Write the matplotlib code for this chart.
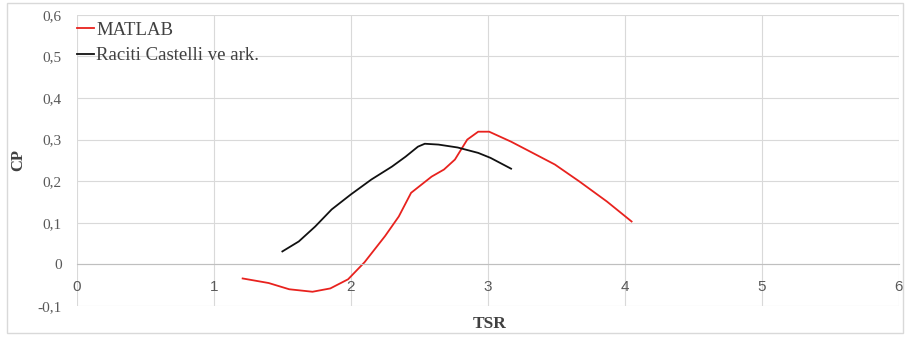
import matplotlib.pyplot as plt
from matplotlib.patches import Rectangle

# MATLAB sonuclari (kirmizi)
matlab_tsr = [1.21, 1.40, 1.55, 1.72, 1.85, 1.98, 2.10, 2.25, 2.35, 2.44, 2.59, 2.68, 2.76,
              2.85, 2.93, 3.01, 3.17, 3.31, 3.49, 3.67, 3.87, 4.05]
matlab_cp = [-0.034, -0.045, -0.060, -0.066, -0.058, -0.036, 0.005, 0.068, 0.115, 0.172,
             0.211, 0.228, 0.252, 0.300, 0.319, 0.319, 0.295, 0.271, 0.240, 0.199, 0.151, 0.103]

# Raciti Castelli ve ark. (siyah)
raciti_tsr = [1.50, 1.62, 1.74, 1.86, 2.00, 2.15, 2.30, 2.40, 2.49, 2.54, 2.64, 2.78, 2.93, 3.02, 3.17]
raciti_cp = [0.031, 0.055, 0.091, 0.132, 0.168, 0.204, 0.235, 0.259, 0.283, 0.290, 0.288,
             0.281, 0.268, 0.256, 0.230]

xticks = [0, 1, 2, 3, 4, 5, 6]
yticks = [-0.1, 0, 0.1, 0.2, 0.3, 0.4, 0.5, 0.6]
yticklabels = ['-0,1', '0', '0,1', '0,2', '0,3', '0,4', '0,5', '0,6']

fig = plt.figure(figsize=(9.05, 3.38), dpi=100)
fig.patches.append(Rectangle((0.008, 0.015), 0.99, 0.975, transform=fig.transFigure,
                             fill=False, edgecolor='#d9d9d9', linewidth=1))
ax = fig.add_axes([0.085, 0.095, 0.908, 0.861])

ax.plot(matlab_tsr, matlab_cp, color='#e8221e', linewidth=1.3, label='MATLAB')
ax.plot(raciti_tsr, raciti_cp, color='#111111', linewidth=1.3, label='Raciti Castelli ve ark.')

ax.set_xlim(0, 6)
ax.set_ylim(-0.1, 0.6)
ax.set_xticks(xticks)
ax.set_yticks(yticks)
ax.set_yticklabels(yticklabels)
ax.grid(True, color='#d9d9d9', linewidth=0.8)
ax.set_axisbelow(True)

for s in ['top', 'right', 'left']:
    ax.spines[s].set_visible(False)
ax.spines['bottom'].set_position(('data', 0))
ax.spines['bottom'].set_color('#bfbfbf')
ax.tick_params(axis='both', length=0, colors='#595959')
ax.tick_params(axis='x', pad=11, labelsize=11)
ax.tick_params(axis='y', pad=11, labelsize=11)
for lab in ax.get_xticklabels():
    lab.set_family(['Liberation Sans'])
for lab in ax.get_yticklabels():
    lab.set_family(['Liberation Serif'])

fig.text(0.541, 0.042, 'TSR', ha='center', va='center', fontsize=12.5,
         fontweight='bold', family='Liberation Serif', color='#404040')
fig.text(0.02, 0.527, 'CP', ha='center', va='center', rotation=90, fontsize=12,
         fontweight='bold', family='Liberation Serif', color='#404040')

leg = ax.legend(loc='upper left', bbox_to_anchor=(-0.02, 1.035), frameon=False,
                prop={'family': 'Liberation Serif', 'size': 13.5},
                handlelength=0.9, handletextpad=0.1, labelspacing=0.45)
for t in leg.get_texts():
    t.set_color('#404040')

fig.savefig('out.png', dpi=100)
